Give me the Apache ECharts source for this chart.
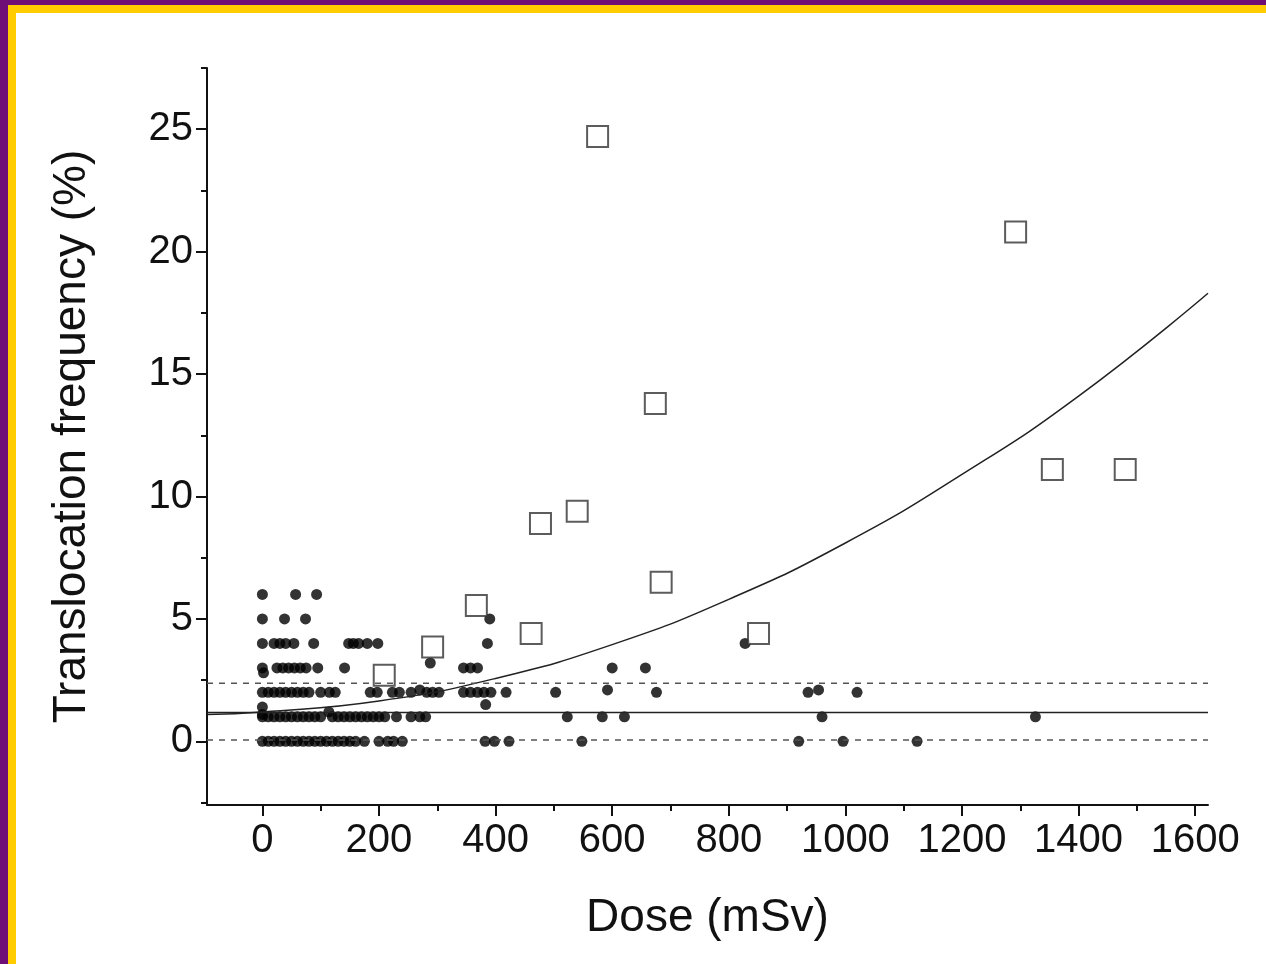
<!DOCTYPE html>
<html>
<head>
<meta charset="UTF-8">
<title>Translocation frequency vs dose</title>
<script src="https://cdn.jsdelivr.net/npm/echarts@6/dist/echarts.min.js"></script>
<style>
html, body { margin: 0; padding: 0; width: 100%; height: 100%; background: #fff; }
#purpleTop { position: absolute; left: 0; top: 0; width: 1266px; height: 5px; background: #6e0f78; }
#purpleLeft { position: absolute; left: 0; top: 0; width: 8px; height: 964px; background: #6e0f78; }
#yellowTop { position: absolute; left: 8px; top: 5px; width: 1258px; height: 8px; background: #ffcc00; }
#yellowLeft { position: absolute; left: 8px; top: 5px; width: 8px; height: 959px; background: #ffcc00; }
#main { position: absolute; left: 0; top: 0; width: 1266px; height: 964px; }
</style>
</head>
<body>
<div id="main"></div>
<div id="purpleTop"></div><div id="purpleLeft"></div>
<div id="yellowTop"></div><div id="yellowLeft"></div>
<script type="text/javascript">
var xMin = -95, xMax = 1622, yMin = -2.6, yMax = 27.5;
var xMajorTicks = [0, 200, 400, 600, 800, 1000, 1200, 1400, 1600];
var xMinorTicks = [-100, 100, 300, 500, 700, 900, 1100, 1300, 1500];
var yMajorTicks = [0, 5, 10, 15, 20, 25];
var yMinorTicks = [-2.5, 2.5, 7.5, 12.5, 17.5, 22.5, 27.5];

// open squares: [dose, frequency]
var squares = [
    [575, 24.7], [1292, 20.8], [674, 13.8], [1355, 11.1], [1480, 11.1],
    [540, 9.4], [477, 8.9], [684, 6.5], [367, 5.55], [461, 4.4],
    [851, 4.4], [292, 3.85], [209, 2.7]
];

// filled dots: [dose, frequency]
var dots = [
    [0, 6], [57, 6], [93, 6],
    [0, 5], [38, 5], [74, 5], [390, 5],
    [0, 4], [20, 4], [30, 4], [40, 4], [54, 4], [88, 4], [148, 4], [156, 4], [165, 4], [180, 4], [198, 4], [386, 4], [828, 4],
    [0, 3], [2, 2.8], [25, 3], [35, 3], [45, 3], [55, 3], [65, 3], [75, 3], [95, 3], [141, 3], [288, 3.2],
    [345, 3], [357, 3], [369, 3], [600, 3], [657, 3],
    [0, 2], [10, 2], [20, 2], [30, 2], [40, 2], [50, 2], [60, 2], [70, 2], [80, 2], [100, 2], [115, 2], [125, 2],
    [185, 2], [197, 2], [223, 2], [235, 2], [255, 2], [270, 2.1], [282, 2], [292, 2], [303, 2],
    [345, 2], [357, 2], [369, 2], [380, 2], [392, 2], [418, 2], [503, 2], [592, 2.1], [676, 2],
    [936, 2], [954, 2.1], [1020, 2],
    [0, 1.4], [0, 1.1], [114, 1.2], [383, 1.5],
    [0, 1], [10, 1], [20, 1], [30, 1], [40, 1], [50, 1], [60, 1], [70, 1], [80, 1], [90, 1], [100, 1],
    [120, 1], [130, 1], [140, 1], [150, 1], [160, 1], [170, 1], [180, 1], [190, 1], [200, 1], [210, 1], [230, 1],
    [255, 1], [270, 1], [280, 1], [523, 1], [583, 1], [621, 1], [960, 1], [1326, 1],
    [0, 0], [10, 0], [20, 0], [30, 0], [40, 0], [50, 0], [60, 0], [70, 0], [80, 0], [90, 0], [100, 0],
    [110, 0], [120, 0], [130, 0], [140, 0], [150, 0], [160, 0], [175, 0], [200, 0], [215, 0], [225, 0], [240, 0],
    [382, 0], [398, 0], [423, 0], [548, 0], [920, 0], [996, 0], [1123, 0]
];

// fitted curve
var curve = [
    [-95, 1.1], [0, 1.2], [200, 1.65], [400, 2.57], [600, 3.95], [800, 5.8],
    [1000, 8.1], [1200, 10.9], [1400, 14.1], [1622, 18.3]
];
var meanLine = [[-95, 1.18], [1622, 1.18]];
var upperLine = [[-95, 2.37], [1622, 2.37]];
var lowerLine = [[-95, 0.05], [1622, 0.05]];

var font = 'Liberation Sans, Arial, sans-serif';
var axisLineStyle = { show: true, onZero: false, lineStyle: { color: '#111', width: 2 } };

var myChart = echarts.init(document.getElementById('main'));
var option = {
    animation: false,
    backgroundColor: 'transparent',
    grid: { left: 207, right: 58, top: 68, bottom: 159 },
    xAxis: [{
        type: 'value', min: xMin, max: xMax,
        name: 'Dose (mSv)', nameLocation: 'middle', nameGap: 90,
        nameTextStyle: { fontSize: 46, color: '#111', fontFamily: font },
        axisLine: axisLineStyle,
        splitLine: { show: false },
        axisTick: { show: true, inside: false, length: 11, customValues: xMajorTicks, lineStyle: { color: '#111', width: 2 } },
        axisLabel: { show: true, customValues: xMajorTicks, fontSize: 40, color: '#111', margin: 16, fontFamily: font,
            formatter: function (v) { return String(v); } }
    }, {
        type: 'value', min: xMin, max: xMax, position: 'bottom',
        axisLine: { show: false, onZero: false }, splitLine: { show: false },
        axisTick: { show: true, length: 6, customValues: xMinorTicks, lineStyle: { color: '#111', width: 2 } },
        axisLabel: { show: false }
    }],
    yAxis: [{
        type: 'value', min: yMin, max: yMax,
        name: 'Translocation frequency (%)', nameLocation: 'middle', nameGap: 112, nameRotate: 90,
        nameTextStyle: { fontSize: 46, color: '#111', fontFamily: font },
        axisLine: axisLineStyle,
        splitLine: { show: false },
        axisTick: { show: true, length: 11, customValues: yMajorTicks, lineStyle: { color: '#111', width: 2 } },
        axisLabel: { show: true, customValues: yMajorTicks, fontSize: 40, color: '#111', margin: 14, fontFamily: font }
    }, {
        type: 'value', min: yMin, max: yMax, position: 'left',
        axisLine: { show: false, onZero: false }, splitLine: { show: false },
        axisTick: { show: true, length: 6, customValues: yMinorTicks, lineStyle: { color: '#111', width: 2 } },
        axisLabel: { show: false }
    }],
    series: [
        { type: 'line', data: curve, smooth: true, symbol: 'none', lineStyle: { color: '#222', width: 1.5 } },
        { type: 'line', data: meanLine, symbol: 'none', lineStyle: { color: '#222', width: 1.5 } },
        { type: 'line', data: upperLine, symbol: 'none', lineStyle: { color: '#555', width: 1.5, type: [6, 6] } },
        { type: 'line', data: lowerLine, symbol: 'none', lineStyle: { color: '#555', width: 1.5, type: [6, 6] } },
        { type: 'scatter', data: dots, symbol: 'circle', symbolSize: 11, itemStyle: { color: '#000' } },
        { type: 'scatter', data: squares, symbol: 'rect', symbolSize: 21,
          itemStyle: { color: '#fff', borderColor: '#333', borderWidth: 2 } }
    ]
};
myChart.setOption(option);
</script>
</body>
</html>
